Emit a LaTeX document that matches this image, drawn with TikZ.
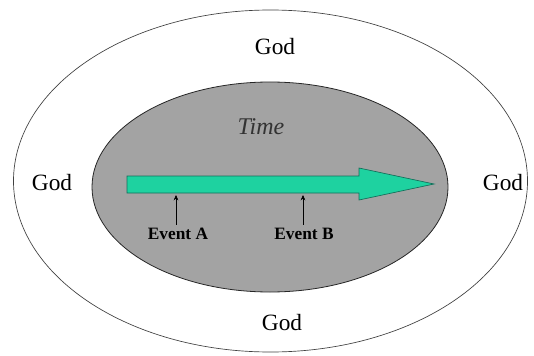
\documentclass[tikz,border=0pt]{standalone}
\usepackage{fontspec}
\setmainfont{Liberation Serif}
\usetikzlibrary{shapes.geometric,arrows.meta}
\definecolor{arrowfill}{RGB}{30,210,160}
\definecolor{arrowline}{RGB}{20,110,90}
\definecolor{innerfill}{RGB}{163,163,163}
\tikzset{
  godlabel/.style={font=\fontsize{17.5pt}{20pt}\selectfont, inner sep=0pt},
  evlabel/.style={font=\bfseries\fontsize{13pt}{15pt}\selectfont, inner sep=0pt},
  pointer/.style={-{Stealth[length=4pt,width=3.5pt]}, line width=0.5pt, black},
}
\begin{document}
\begin{tikzpicture}[x=0.75pt,y=-0.75pt]
\useasboundingbox (0,0) rectangle (534,356);
\node[ellipse, draw=black!75, line width=0.5pt, fill=white, minimum width=385.5pt, minimum height=256.5pt, inner sep=0pt] (outer) at (270.5,181) {};
\node[ellipse, draw=black!85, line width=0.6pt, fill=innerfill, minimum width=267pt, minimum height=157.5pt, inner sep=0pt] (inner) at (270,187) {};
\node[godlabel] (godT) at (275,47) {God};
\node[godlabel] (godL) at (52,183) {God};
\node[godlabel] (godR) at (503,183) {God};
\node[godlabel] (godB) at (282,323) {God};
\node[font=\itshape\fontsize{18pt}{20pt}\selectfont, inner sep=0pt, text=black!80] (time) at (261,127) {Time};
\draw[fill=arrowfill, draw=arrowline, line width=0.5pt]
  (127,176) -- (359,176) -- (359,168) -- (434,184) -- (359,200) -- (359,193) -- (127,193) -- cycle;
\coordinate (hitA) at (176,195);
\coordinate (hitB) at (303,195);
\node[evlabel] (evA) at (178,234) {Event A};
\node[evlabel] (evB) at (304,234) {Event B};
\draw[pointer] (evA.north -| hitA) ++(0,-3) -- (hitA);
\draw[pointer] (evB.north -| hitB) ++(0,-3) -- (hitB);
\end{tikzpicture}
\end{document}
